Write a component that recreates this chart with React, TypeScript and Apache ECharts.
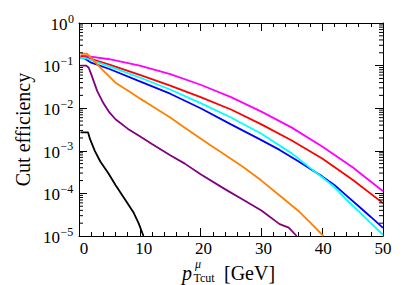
import React, { useEffect, useRef } from 'react';
import * as echarts from 'echarts';

const FONT = 'Liberation Serif';

// x positions (GeV) and cut efficiencies
const magentaX = [0.25, 1, 5, 10, 15, 20, 25, 30, 35, 40, 45, 50];
const magentaY = [0.17, 0.17, 0.141, 0.1, 0.063, 0.0355, 0.0182, 0.0083, 0.0035, 0.00126, 4.1e-4, 1.12e-4];

const redX = [0.25, 1, 5, 10, 15, 20, 25, 30, 35, 40, 45, 50];
const redY = [0.162, 0.158, 0.105, 0.0603, 0.0339, 0.0182, 0.00933, 0.00417, 0.00174, 6.6e-4, 2.09e-4, 5.9e-5];

const cyanX = [0.25, 1, 5, 10, 15, 20, 25, 30, 35, 38, 40, 42, 44, 46, 48, 50];
const cyanY = [0.151, 0.151, 0.0955, 0.0525, 0.0275, 0.0132, 0.00603, 0.00251, 8.7e-4, 3.98e-4, 2.4e-4, 1.41e-4, 7.1e-5, 3.8e-5, 2.0e-5, 1.07e-5];

const blueX = [0.25, 1, 2, 5, 10, 15, 20, 25, 30, 33, 36, 38, 40, 42, 44, 46, 48, 50];
const blueY = [0.151, 0.145, 0.117, 0.0832, 0.0427, 0.0219, 0.01, 0.00417, 0.00178, 0.00105, 5.75e-4, 3.8e-4, 2.51e-4, 1.58e-4, 8.9e-5, 5.0e-5, 2.8e-5, 1.55e-5];

const orangeX = [0.25, 1.3, 2, 3, 4, 6, 8.4, 10, 12, 15, 17.4, 21.5, 24, 27, 30, 33, 36, 38, 40.2];
const orangeY = [0.19, 0.19, 0.151, 0.107, 0.0759, 0.0398, 0.024, 0.017, 0.0112, 0.00603, 0.00347, 0.00138, 8.1e-4, 4.17e-4, 2.0e-4, 8.9e-5, 3.98e-5, 2.1e-5, 1.0e-5];

const purpleX = [0.25, 1.2, 1.6, 2, 2.5, 3, 4, 5, 6, 8, 10, 12, 15, 17.4, 20, 24, 27, 30, 33, 34.5, 35.8];
const purpleY = [0.1, 0.1, 0.089, 0.063, 0.0398, 0.0251, 0.0132, 0.00794, 0.0055, 0.00331, 0.00219, 0.00145, 7.9e-4, 5.0e-4, 2.8e-4, 1.26e-4, 7.1e-5, 3.98e-5, 1.9e-5, 1.58e-5, 1.0e-5];

const blackX = [0.25, 1.5, 1.8, 2.6, 3.5, 4.8, 6, 7.6, 9, 9.8, 10.6];
const blackY = [0.0027, 0.0027, 0.0019, 0.001, 5.6e-4, 3.0e-4, 1.58e-4, 7.1e-5, 3.5e-5, 2.0e-5, 1.0e-5];

// tick labels
const xTickLabels = [0, 10, 20, 30, 40, 50];
const yTickExponents = [0, -1, -2, -3, -4, -5];

const X_MIN = 0;
const X_MAX = 50;
const Y_MIN = 1e-5;
const Y_MAX = 1;

const zip = (xs: number[], ys: number[]) => xs.map((x, i) => [x, ys[i]]);

function minorLogTicks(): number[][] {
  const out: number[][] = [];
  for (let k = -5; k < 0; k++) {
    for (let m = 2; m <= 9; m++) out.push([X_MIN, m * Math.pow(10, k)]);
  }
  return out;
}

const txtStyle = (text: string, font: string, align: string, vAlign: string) => ({
  text,
  font,
  fill: '#000',
  align,
  textAlign: align,
  verticalAlign: vAlign,
  textVerticalAlign: vAlign,
});

const titleElements = () => [
  { id: 't_p', type: 'text', left: 182, top: 263, silent: true, style: { text: 'p', font: `italic 20px ${FONT}`, fill: '#000' } },
  { id: 't_mu', type: 'text', left: 195, top: 258, silent: true, style: { text: '\u03bc', font: `italic 12px ${FONT}`, fill: '#000' } },
  { id: 't_tcut', type: 'text', left: 193.5, top: 272, silent: true, style: { text: 'Tcut', font: `12px ${FONT}`, fill: '#000' } },
  { id: 't_gev', type: 'text', left: 224, top: 263, silent: true, style: { text: '[GeV]', font: `20px ${FONT}`, fill: '#000' } },
];

export default function App() {
  const ref = useRef<HTMLDivElement>(null);
  useEffect(() => {
    if (!ref.current) return;
    const chart = echarts.init(ref.current, null, { renderer: 'svg' });
    const lineSeries = (name: string, xs: number[], ys: number[], color: string) => ({
      name,
      type: 'line',
      data: zip(xs, ys),
      showSymbol: false,
      symbol: 'none',
      lineStyle: { color, width: 1.8 },
      itemStyle: { color },
      xAxisIndex: 0,
      yAxisIndex: 0,
    });
    const xAxisBase = {
      type: 'value',
      min: X_MIN,
      max: X_MAX,
      interval: 10,
      splitLine: { show: false },
      axisLine: { show: true, onZero: false, lineStyle: { color: '#000', width: 1 } },
      axisTick: { show: true, inside: true, length: 8, lineStyle: { color: '#000', width: 1 } },
      minorTick: { show: true, splitNumber: 5, length: 4, lineStyle: { color: '#000', width: 1 } },
    };
    const yAxisBase = {
      type: 'log',
      logBase: 10,
      min: Y_MIN,
      max: Y_MAX,
      splitLine: { show: false },
      axisLine: { show: true, onZero: false, lineStyle: { color: '#000', width: 1 } },
      axisTick: { show: true, inside: true, length: 8, lineStyle: { color: '#000', width: 1 } },
    };
    chart.setOption({
      animation: false,
      backgroundColor: '#fff',
      grid: { left: 79, right: 24, top: 23, bottom: 49, containLabel: false },
      xAxis: [
        {
          ...xAxisBase,
          position: 'bottom',
          axisLabel: { show: true, fontSize: 17, fontFamily: FONT, color: '#000', margin: 4 },
        },
        { ...xAxisBase, position: 'top', axisLabel: { show: false } },
      ],
      yAxis: [
        {
          ...yAxisBase,
          position: 'left',
          name: 'Cut efficiency',
          nameLocation: 'middle',
          nameGap: 50,
          nameTextStyle: { fontSize: 20, fontFamily: FONT, color: '#000' },
          axisLabel: {
            show: true,
            margin: 6,
            fontSize: 17,
            fontFamily: FONT,
            color: '#000',
            formatter: (v: number) => '10^' + Math.round(Math.log10(v)),
          },
        },
        { ...yAxisBase, position: 'right', axisLabel: { show: false } },
      ],
      graphic: titleElements(),
      series: [
        lineSeries('magenta', magentaX, magentaY, '#ff00ff'),
        lineSeries('red', redX, redY, '#ff0000'),
        lineSeries('blue', blueX, blueY, '#0000ff'),
        lineSeries('cyan', cyanX, cyanY, '#00ffff'),
        lineSeries('orange', orangeX, orangeY, '#ff8000'),
        lineSeries('purple', purpleX, purpleY, '#800080'),
        lineSeries('black', blackX, blackY, '#000000'),
        {
          type: 'custom',
          silent: true,
          xAxisIndex: 0,
          yAxisIndex: 0,
          data: minorLogTicks(),
          encode: { x: 0, y: 1 },
          z: 10,
          renderItem: (params: any, api: any) => {
            const v = api.value(1);
            const pL = api.coord([X_MIN, v]);
            const pR = api.coord([X_MAX, v]);
            return {
              type: 'group',
              children: [
                { type: 'line', shape: { x1: pL[0], y1: pL[1], x2: pL[0] + 4, y2: pL[1] }, style: { stroke: '#000', lineWidth: 1 } },
                { type: 'line', shape: { x1: pR[0] - 4, y1: pR[1], x2: pR[0], y2: pR[1] }, style: { stroke: '#000', lineWidth: 1 } },
              ],
            };
          },
        },
      ],
    });

    // Draw tick labels and the y title as serif graphic texts placed through the axes' own scales.
    try {
      const els: any[] = titleElements();
      const yBottom = chart.convertToPixel({ yAxisIndex: 0 } as any, Y_MIN) as number;
      const yTop = chart.convertToPixel({ yAxisIndex: 0 } as any, Y_MAX) as number;
      const xLeft = chart.convertToPixel({ xAxisIndex: 0 } as any, X_MIN) as number;
      if (![yBottom, yTop, xLeft].every((n) => typeof n === 'number' && isFinite(n))) throw new Error('bad');
      xTickLabels.forEach((v, i) => {
        const px = chart.convertToPixel({ xAxisIndex: 0 } as any, v) as number;
        if (!isFinite(px)) throw new Error('bad');
        els.push({ id: 'xl' + i, type: 'text', x: px, y: yBottom + 12.5, silent: true, style: txtStyle(String(v), `17px ${FONT}`, 'center', 'middle') });
      });
      yTickExponents.forEach((e, i) => {
        const py = chart.convertToPixel({ yAxisIndex: 0 } as any, Math.pow(10, e)) as number;
        if (!isFinite(py)) throw new Error('bad');
        const neg = e < 0;
        const baseRight = xLeft - (neg ? 24 : 16.5);
        const sup = neg ? '\u2212' + String(-e) : String(e);
        els.push({ id: 'yb' + i, type: 'text', x: baseRight, y: py + 1.2, silent: true, style: txtStyle('10', `17px ${FONT}`, 'right', 'middle') });
        els.push({ id: 'ys' + i, type: 'text', x: baseRight + 0.5, y: py - 4.5, silent: true, style: txtStyle(sup, `12px ${FONT}`, 'left', 'middle') });
      });
      els.push({
        id: 'yname',
        type: 'text',
        x: 23,
        y: (yBottom + yTop) / 2,
        rotation: Math.PI / 2,
        silent: true,
        style: txtStyle('Cut efficiency', `20px ${FONT}`, 'center', 'middle'),
      });
      chart.setOption({
        xAxis: [{ axisLabel: { show: false } }, {}],
        yAxis: [{ axisLabel: { show: false }, name: '' }, {}],
        graphic: els,
      });
    } catch (err) {
      // keep the axis' own labels if anything goes wrong
    }
    return () => chart.dispose();
  }, []);
  return (
    <div
      ref={ref}
      style={{ position: 'fixed', left: 0, top: 0, width: 407, height: 285, background: '#fff' }}
    />
  );
}
